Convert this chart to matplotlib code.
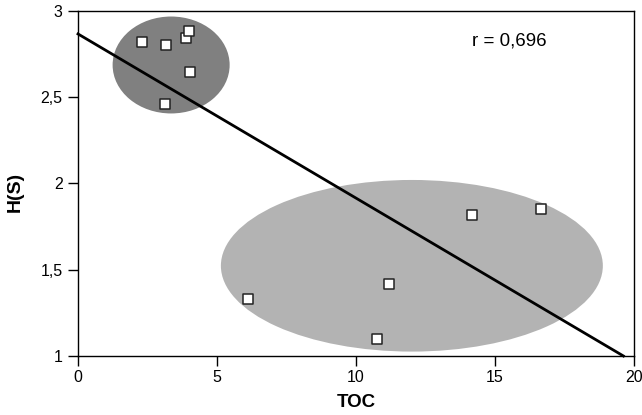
import matplotlib
matplotlib.use("Agg")
import matplotlib.pyplot as plt
from matplotlib.patches import Ellipse
from matplotlib.ticker import FuncFormatter

plt.rcParams['font.family'] = ['Liberation Sans', 'DejaVu Sans']

# Data
toc_upper = [2.32, 3.18, 3.87, 3.98, 4.04, 3.14]
hs_upper = [2.822, 2.80, 2.845, 2.884, 2.645, 2.463]
toc_lower = [6.13, 10.76, 11.18, 14.17, 16.67]
hs_lower = [1.33, 1.097, 1.416, 1.82, 1.852]
fit_x = [0.0, 19.62]
fit_y = [2.867, 1.0]
x_ticks = [0, 5, 10, 15, 20]
y_ticks = [1, 1.5, 2, 2.5, 3]
r_label = "r = 0,696"

fig = plt.figure(figsize=(6.42, 4.15), dpi=100)
ax = fig.add_axes([0.1215, 0.1422, 0.866, 0.8313])
ax.set_xlim(0, 20)
ax.set_ylim(1, 3)

# cluster ellipses
ax.add_patch(Ellipse((3.35, 2.687), 4.21, 0.562, facecolor='#808080', edgecolor='none', zorder=1))
ax.add_patch(Ellipse((12.01, 1.523), 13.74, 0.995, facecolor='#b3b3b3', edgecolor='none', zorder=1))

ax.plot(fit_x, fit_y, color='black', lw=2.0, zorder=2, clip_on=False)

ax.scatter(toc_upper + toc_lower, hs_upper + hs_lower, marker='s', s=42,
           facecolor='white', edgecolor='#222222', linewidths=1.1, zorder=3)

ax.text(0.775, 0.913, r_label, transform=ax.transAxes, ha='center', va='center', fontsize=13.5)

ax.set_xticks(x_ticks)
ax.set_yticks(y_ticks)
fmt = FuncFormatter(lambda v, p: ('%g' % v).replace('.', ','))
ax.xaxis.set_major_formatter(fmt)
ax.yaxis.set_major_formatter(fmt)
ax.tick_params(direction='out', length=7, width=1, labelsize=11.5, pad=3)
ax.tick_params(axis='y', pad=4)
for s in ax.spines.values():
    s.set_linewidth(1)
    s.set_color('black')

ax.set_xlabel('TOC', fontsize=13.5, fontweight='bold')
ax.xaxis.set_label_coords(0.5, -0.11)
ax.set_ylabel('H(S)', fontsize=14, fontweight='bold')
ax.yaxis.set_label_coords(-0.097, 0.475)

fig.savefig('out.png', dpi=100)
